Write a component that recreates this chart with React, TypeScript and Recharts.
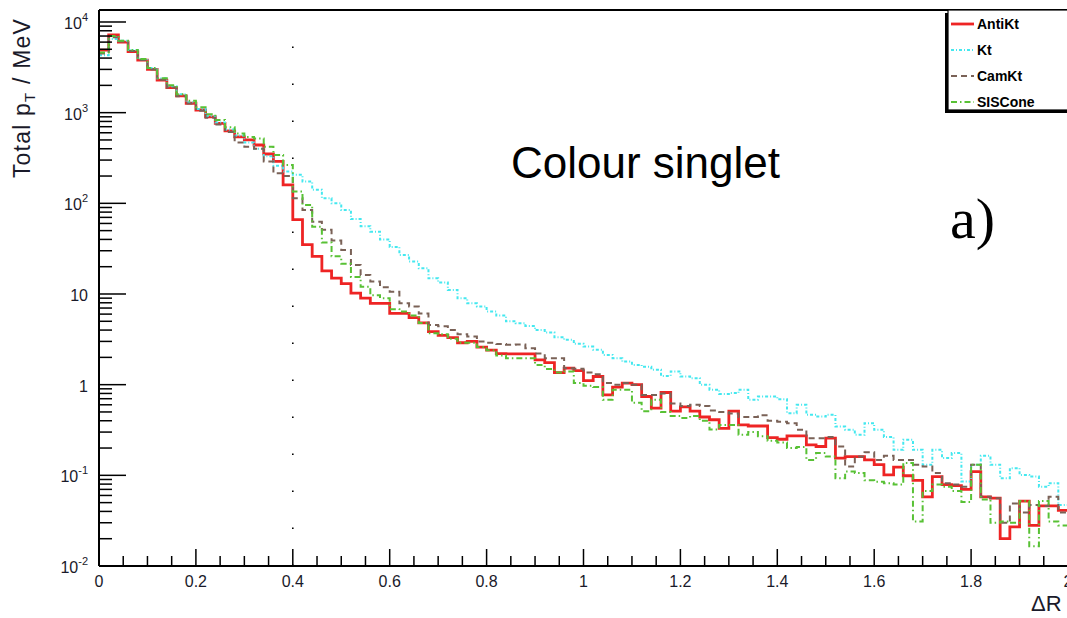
import React from 'react';
import { LineChart, Line, XAxis, YAxis, ReferenceLine } from 'recharts';

// Bin low edges (bin width 0.02) plus the closing edge at 2.0
const X_EDGES = [
  0, 0.02, 0.04, 0.06, 0.08, 0.1, 0.12, 0.14, 0.16, 0.18,
  0.2, 0.22, 0.24, 0.26, 0.28, 0.3, 0.32, 0.34, 0.36, 0.38,
  0.4, 0.42, 0.44, 0.46, 0.48, 0.5, 0.52, 0.54, 0.56, 0.58,
  0.6, 0.62, 0.64, 0.66, 0.68, 0.7, 0.72, 0.74, 0.76, 0.78,
  0.8, 0.82, 0.84, 0.86, 0.88, 0.9, 0.92, 0.94, 0.96, 0.98,
  1.0, 1.02, 1.04, 1.06, 1.08, 1.1, 1.12, 1.14, 1.16, 1.18,
  1.2, 1.22, 1.24, 1.26, 1.28, 1.3, 1.32, 1.34, 1.36, 1.38,
  1.4, 1.42, 1.44, 1.46, 1.48, 1.5, 1.52, 1.54, 1.56, 1.58,
  1.6, 1.62, 1.64, 1.66, 1.68, 1.7, 1.72, 1.74, 1.76, 1.78,
  1.8, 1.82, 1.84, 1.86, 1.88, 1.9, 1.92, 1.94, 1.96, 1.98,
  2.0,
];

const ANTIKT = [
  4900, 7200, 6000, 4700, 3800, 3000, 2290, 1890, 1530, 1270,
  1070, 900, 760, 630, 540, 500, 440, 350, 290, 160,
  66, 35, 26, 18, 15, 13, 10.2, 9.0, 7.9, 7.9,
  6.1, 6.1, 5.5, 4.8, 3.85, 3.5, 3.3, 2.9, 3.0, 2.6,
  2.4, 2.2, 2.19, 2.19, 2.19, 1.88, 1.75, 1.36, 1.52, 1.43,
  1.11, 1.23, 0.77, 0.94, 1.04, 1.0, 0.74, 0.55, 0.82, 0.51,
  0.57, 0.51, 0.44, 0.41, 0.33, 0.51, 0.36, 0.35, 0.35, 0.26,
  0.25, 0.273, 0.273, 0.217, 0.208, 0.257, 0.155, 0.161, 0.161, 0.148,
  0.131, 0.101, 0.123, 0.099, 0.088, 0.058, 0.097, 0.079, 0.077, 0.07,
  0.11, 0.058, 0.056, 0.02, 0.027, 0.052, 0.028, 0.046, 0.046, 0.041,
];

const KT = [
  4300, 6500, 6200, 4900, 3900, 3100, 2400, 1950, 1600, 1300,
  1100, 920, 780, 650, 560, 470, 400, 330, 260, 225,
  206, 174, 141, 114, 100, 84.5, 67, 56, 48.7, 40,
  33, 27, 22.8, 19.2, 14.9, 13.4, 11.1, 9.0, 7.9, 7.3,
  6.4, 5.8, 5.0, 4.76, 4.45, 4.0, 3.76, 3.34, 3.12, 2.82,
  2.63, 2.42, 2.13, 1.96, 1.8, 1.65, 1.58, 1.46, 1.25, 1.4,
  1.23, 1.18, 1.0, 0.88, 0.79, 0.81, 0.88, 0.68, 0.74, 0.74,
  0.69, 0.485, 0.6, 0.465, 0.445, 0.465, 0.345, 0.318, 0.28, 0.376,
  0.318, 0.264, 0.191, 0.247, 0.191, 0.131, 0.191, 0.155, 0.176, 0.0855,
  0.131, 0.164, 0.131, 0.093, 0.12, 0.101, 0.097, 0.075, 0.082, 0.047,
];

const CAMKT = [
  4500, 6800, 6100, 4800, 3800, 3000, 2300, 1900, 1520, 1260,
  1050, 880, 740, 610, 470, 420, 400, 289, 215, 200,
  114, 84.5, 62.8, 51, 38.8, 30.6, 20.9, 16.2, 13.7, 11.9,
  10.6, 7.9, 7.3, 6.1, 4.56, 4.4, 4.0, 3.6, 3.4, 3.0,
  2.9, 2.8, 2.75, 2.78, 2.52, 2.2, 1.96, 1.96, 1.52, 1.5,
  1.36, 1.3, 1.04, 1.0, 1.04, 1.0, 0.77, 0.77, 0.8, 0.62,
  0.58, 0.6, 0.58, 0.52, 0.5, 0.48, 0.44, 0.44, 0.46, 0.4,
  0.39, 0.376, 0.318, 0.257, 0.257, 0.264, 0.208, 0.125, 0.161, 0.18,
  0.148, 0.164, 0.148, 0.148, 0.131, 0.125, 0.106, 0.082, 0.079, 0.075,
  0.131, 0.058, 0.056, 0.03, 0.049, 0.039, 0.047, 0.046, 0.058, 0.039,
];

const SISCONE = [
  4600, 7000, 6200, 4900, 3900, 3100, 2400, 2000, 1600, 1350,
  1150, 960, 830, 690, 590, 540, 520, 422, 342, 265,
  135, 96, 55, 37, 26, 21.5, 15.4, 12, 9.7, 9.0,
  6.8, 6.4, 5.8, 4.8, 3.7, 3.6, 3.2, 2.9, 2.9, 2.6,
  2.4, 2.1, 1.96, 1.96, 1.96, 1.65, 1.49, 1.36, 1.4, 1.04,
  0.97, 0.94, 0.68, 0.88, 0.88, 0.63, 0.51, 0.68, 0.5, 0.45,
  0.43, 0.45, 0.4, 0.32, 0.36, 0.36, 0.28, 0.3, 0.27, 0.24,
  0.23, 0.2, 0.205, 0.148, 0.176, 0.161, 0.093, 0.11, 0.106, 0.088,
  0.085, 0.082, 0.079, 0.137, 0.031, 0.067, 0.079, 0.075, 0.067, 0.0507,
  0.131, 0.054, 0.03, 0.031, 0.03, 0.052, 0.0165, 0.052, 0.031, 0.028,
];

const X_TICKS = [
  0, 0.05, 0.1, 0.15, 0.2, 0.25, 0.3, 0.35, 0.4, 0.45,
  0.5, 0.55, 0.6, 0.65, 0.7, 0.75, 0.8, 0.85, 0.9, 0.95,
  1.0, 1.05, 1.1, 1.15, 1.2, 1.25, 1.3, 1.35, 1.4, 1.45,
  1.5, 1.55, 1.6, 1.65, 1.7, 1.75, 1.8, 1.85, 1.9, 1.95, 2.0,
];
const X_MAJOR = [0, 0.2, 0.4, 0.6, 0.8, 1.0, 1.2, 1.4, 1.6, 1.8, 2.0];
const X_LABELS = ['0', '0.2', '0.4', '0.6', '0.8', '1', '1.2', '1.4', '1.6', '1.8', '2'];

const Y_MAX = 13560;
const Y_MIN = 0.01;
const Y_DECADES = [0.01, 0.1, 1, 10, 100, 1000, 10000];
const Y_DECADE_BASE = ['10', '10', '1', '10', '10', '10', '10'];
const Y_DECADE_EXP = ['-2', '-1', '', '', '2', '3', '4'];
const Y_MINOR_MULT = [2, 3, 4, 5, 6, 7, 8, 9];

const SERIES = [
  { key: 'antikt', name: 'AntiKt', color: '#ee2424', width: 2.8, dash: undefined as string | undefined },
  { key: 'kt', name: 'Kt', color: '#44e8ef', width: 2, dash: '3 2 1 2' },
  { key: 'camkt', name: 'CamKt', color: '#7a6257', width: 2, dash: '6 4' },
  { key: 'siscone', name: 'SISCone', color: '#58c135', width: 2, dash: '6 3 1.5 3' },
];

const rows = X_EDGES.map((x, i) => {
  const j = Math.min(i, ANTIKT.length - 1);
  return { x, antikt: ANTIKT[j], kt: KT[j], camkt: CAMKT[j], siscone: SISCONE[j] };
});

const yTicks: number[] = [];
Y_DECADES.forEach((d) => {
  yTicks.push(d);
  Y_MINOR_MULT.forEach((m) => {
    const v = d * m;
    if (v <= Y_MAX) yTicks.push(v);
  });
});

const FONT = '"Liberation Sans", Arial, Helvetica, sans-serif';

const XTick = (props: any) => {
  const { x, y, payload } = props;
  const v = payload.value as number;
  const idx = X_MAJOR.findIndex((m) => Math.abs(m - v) < 1e-6);
  const major = idx >= 0;
  return (
    <g>
      <line x1={x} x2={x} y1={y} y2={y - (major ? 17 : 10)} stroke="#000" strokeWidth={1.5} />
      {major && (
        <text x={x} y={y + 21} textAnchor="middle" fontSize={16} fontFamily={FONT} fill="#1a1a2a">
          {X_LABELS[idx]}
        </text>
      )}
    </g>
  );
};

const YTick = (props: any) => {
  const { x, y, payload } = props;
  const v = payload.value as number;
  const idx = Y_DECADES.findIndex((d) => Math.abs(Math.log10(d) - Math.log10(v)) < 1e-6);
  const major = idx >= 0;
  return (
    <g>
      <line x1={x} x2={x + (major ? 27 : 13)} y1={y} y2={y} stroke="#000" strokeWidth={1.5} />
      {major && (
        <text x={x - 11} y={y + 7} textAnchor="end" fontSize={16} fontFamily={FONT} fill="#1a1a2a">
          {Y_DECADE_BASE[idx]}
          {Y_DECADE_EXP[idx] !== '' && (
            <tspan dy={-8} fontSize={11}>
              {Y_DECADE_EXP[idx]}
            </tspan>
          )}
        </text>
      )}
    </g>
  );
};

export default function App() {
  return (
    <div
      style={{
        position: 'fixed',
        left: 0,
        top: 0,
        width: 1067,
        height: 618,
        overflow: 'hidden',
        background: '#fff',
      }}
    >
      <LineChart width={1100} height={618} data={rows} margin={{ top: 10, right: 32, bottom: 0, left: 0 }}>
        <XAxis
          dataKey="x"
          type="number"
          domain={[0, 2]}
          allowDataOverflow
          ticks={X_TICKS}
          interval={0}
          height={52}
          tickSize={0}
          tickMargin={0}
          tickLine={false}
          tick={<XTick />}
          axisLine={{ stroke: '#000', strokeWidth: 2 }}
        />
        <YAxis
          type="number"
          scale="log"
          domain={[Y_MIN, Y_MAX]}
          allowDataOverflow
          ticks={yTicks}
          interval={0}
          width={99}
          tickSize={0}
          tickMargin={0}
          tickLine={false}
          tick={<YTick />}
          axisLine={{ stroke: '#000', strokeWidth: 2 }}
        />
        <ReferenceLine y={Y_MAX} stroke="#000" strokeWidth={2} ifOverflow="visible" />
        <ReferenceLine x={0.4} stroke="#000" strokeWidth={1.6} strokeDasharray="1.6 35.4" />
        {SERIES.map((s) => (
          <Line
            key={s.key}
            dataKey={s.key}
            name={s.name}
            type="stepAfter"
            stroke={s.color}
            strokeWidth={s.width}
            strokeDasharray={s.dash}
            dot={false}
            activeDot={false}
            isAnimationActive={false}
          />
        ))}
      </LineChart>
      <svg
        width={1067}
        height={618}
        style={{ position: 'absolute', left: 0, top: 0, pointerEvents: 'none' }}
      >
        <text
          transform="translate(30,98) rotate(-90)"
          textAnchor="middle"
          fontSize={23}
          letterSpacing={1.2}
          fontFamily={FONT}
          fill="#1a1a2a"
        >
          Total p
          <tspan dy={5} fontSize={15}>T</tspan>
          <tspan dy={-5}> / MeV</tspan>
        </text>
        <text x={1031} y={611} fontSize={22} fontFamily={FONT} fill="#1a1a2a">
          ΔR
        </text>
        <text x={511} y={178} fontSize={44} fontFamily={FONT} fill="#000">
          Colour singlet
        </text>
        <text x={950} y={238} fontSize={58} fontFamily='"Liberation Serif", "Times New Roman", serif' fill="#000">
          a)
        </text>
        <rect x={945} y={13} width={140} height={100} fill="#000" />
        <rect x={948} y={10} width={140} height={100} fill="#fff" stroke="#000" strokeWidth={1.2} />
        {SERIES.map((s, i) => {
          const ly = 24 + i * 26;
          return (
            <g key={s.key}>
              <line
                x1={951}
                x2={974}
                y1={ly}
                y2={ly}
                stroke={s.color}
                strokeWidth={s.width}
                strokeDasharray={s.dash}
              />
              <text x={977} y={ly + 5} fontSize={14} fontWeight="bold" fontFamily={FONT} fill="#000">
                {s.name}
              </text>
            </g>
          );
        })}
      </svg>
    </div>
  );
}
